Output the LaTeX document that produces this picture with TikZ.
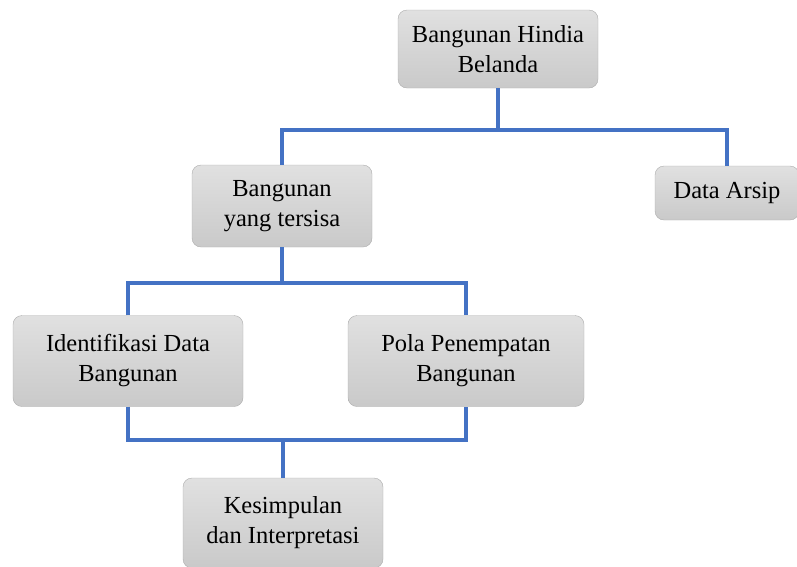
\documentclass[tikz,border=0pt]{standalone}
\usepackage{fontspec}
\setmainfont{Liberation Serif}
\usepackage{tikz}

\begin{document}
\begin{tikzpicture}[x=1pt, y=-1pt,
  kotak/.style={draw=gray!65, rounded corners=9pt, top color=gray!24, bottom color=gray!42,
    align=center, inner sep=0pt, font=\fontsize{24.5}{30}\selectfont},
  garis/.style={draw={rgb,255:red,68;green,114;blue,196}, line width=3.2pt}]
\useasboundingbox (0,0) rectangle (797,566);
\node [kotak, minimum width=200, minimum height=78] (hindia) at (498,49) {Bangunan Hindia\\Belanda};
\node [kotak, minimum width=144, minimum height=54] (arsip) at (727,193) {Data Arsip};
\node [kotak, minimum width=180, minimum height=82] (tersisa) at (282,206) {Bangunan\\yang tersisa};
\node [kotak, minimum width=230, minimum height=91] (identifikasi) at (128,361) {Identifikasi Data\\Bangunan};
\node [kotak, minimum width=236, minimum height=91] (pola) at (466,361) {Pola Penempatan\\Bangunan};
\node [kotak, minimum width=200, minimum height=90] (kesimpulan) at (283,523) {Kesimpulan\\dan Interpretasi};
\coordinate (c1) at (498,130);
\coordinate (c2) at (282,283);
\coordinate (c3) at (283,440);
\draw [garis] (hindia.south) -- (c1);
\draw [garis] (tersisa.north) |- (c1) -| (arsip.north);
\draw [garis] (tersisa.south) -- (c2);
\draw [garis] (identifikasi.north) |- (c2) -| (pola.north);
\draw [garis] (identifikasi.south) |- (c3) -| (pola.south);
\draw [garis] (c3) -- (kesimpulan.north);
\end{tikzpicture}
\end{document}
